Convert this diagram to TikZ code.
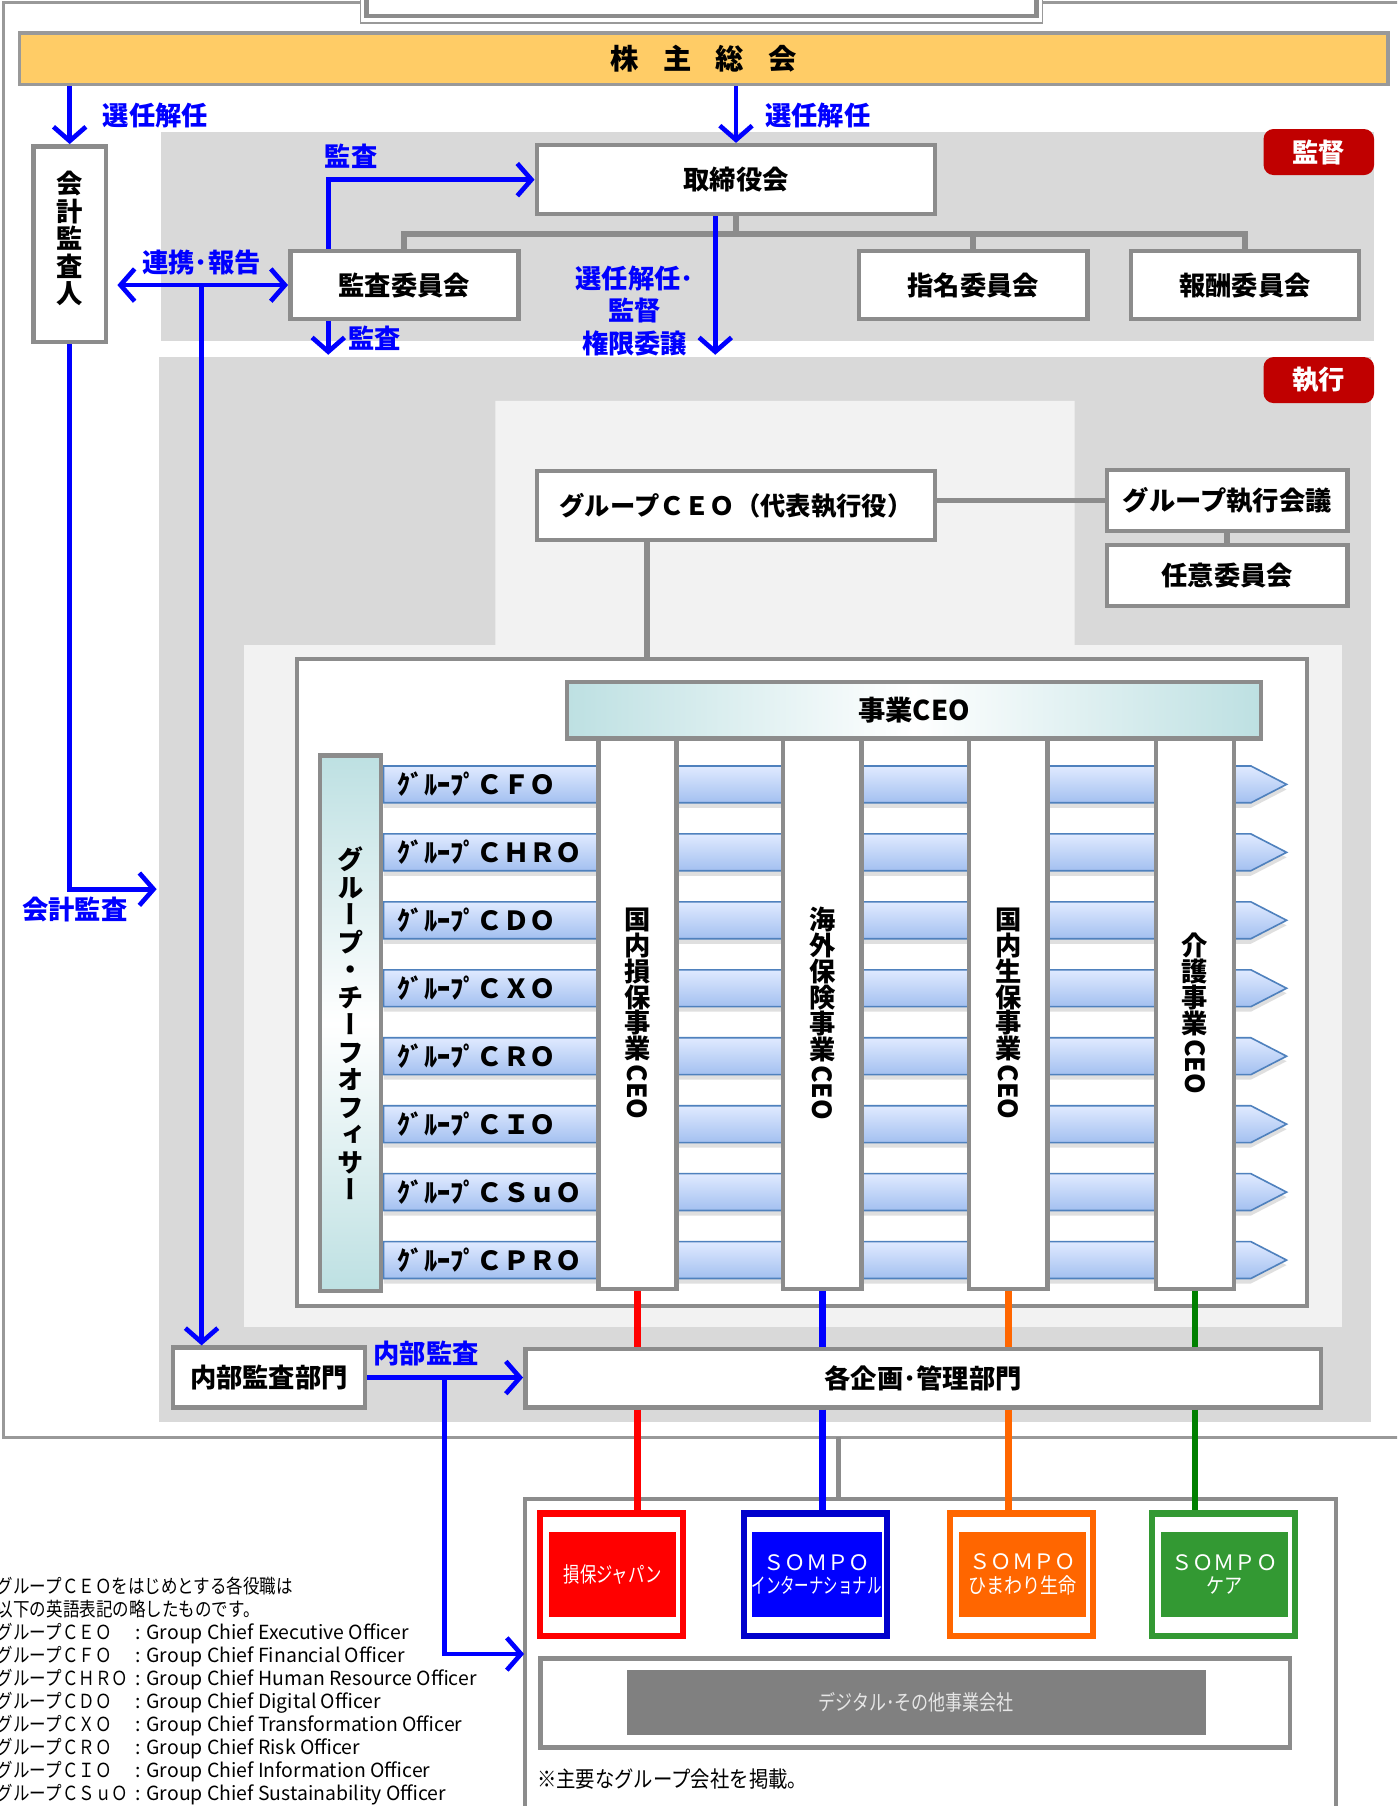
\documentclass[tikz,border=0pt]{standalone}
\usepackage{fontspec}
\usepackage{graphicx}
\setmainfont{Noto Sans CJK JP}
\newfontfamily\jpvert[RawFeature=+vert]{Noto Sans CJK JP}
\usetikzlibrary{arrows.meta,shadows}
\definecolor{framegray}{RGB}{153,153,153}
\definecolor{boxgray}{RGB}{140,140,140}
\definecolor{areagray}{RGB}{217,217,217}
\definecolor{lightarea}{RGB}{242,242,242}
\definecolor{gmyellow}{RGB}{255,204,102}
\definecolor{badgered}{RGB}{192,0,0}
\definecolor{abblue}{RGB}{0,0,255}
\definecolor{tealc}{RGB}{189,224,226}
\definecolor{bartop}{RGB}{224,234,255}
\definecolor{barbot}{RGB}{163,192,240}
\definecolor{baredge}{RGB}{79,129,189}
\definecolor{sjred}{RGB}{255,0,0}
\definecolor{siblue}{RGB}{0,0,255}
\definecolor{sidark}{RGB}{0,0,204}
\definecolor{shorange}{RGB}{255,102,0}
\definecolor{scgreen}{RGB}{51,153,51}
\definecolor{lngreen}{RGB}{0,128,0}
\definecolor{dggray}{RGB}{128,128,128}
\definecolor{dgtext}{RGB}{230,230,230}
\newcommand\jn[1]{\scalebox{0.85}[1]{#1}}
\newcommand\sepc{\hspace{3.5pt}:\hspace{3pt}}
\begin{document}
\begin{tikzpicture}[x=0.02cm,y=-0.02cm,
  orgbox/.style={draw=boxgray,line width=2.2pt,fill=white,inner sep=0pt,font=\bfseries\fontsize{13}{15}\selectfont},
  vbox/.style={orgbox,align=center,font=\jpvert\bfseries\fontsize{13}{13.6}\selectfont},
  badge/.style={fill=badgered,rounded corners=5pt,text=white,minimum width=1.92cm,minimum height=0.8cm,font=\bfseries\fontsize{13}{15}\selectfont},
  blab/.style={text=abblue,font=\bfseries\fontsize{13}{16}\selectfont,inner sep=0pt},
  barrow/.style={draw=abblue,line width=2.3pt,arrows={-Straight Barb[length=7pt,width=16pt]}},
  bdarrow/.style={draw=abblue,line width=2.3pt,arrows={Straight Barb[length=7pt,width=16pt]-Straight Barb[length=7pt,width=16pt]}},
  gline/.style={draw=boxgray,line width=2.8pt},
  rowbar/.style={draw=baredge,line width=0.8pt,top color=bartop,bottom color=barbot,drop shadow={shadow xshift=0pt,shadow yshift=-2.5pt,opacity=0.25}},
  rowlab/.style={font=\bfseries\fontsize{13}{15}\selectfont,inner sep=0pt,anchor=west},
  coout/.style={draw=#1,line width=3pt,fill=white,minimum width=2.48cm,minimum height=2.12cm},
  coin/.style={fill=#1,text=white,inner sep=0pt,minimum width=2.2cm,minimum height=1.46cm,align=center,font=\fontsize{10.5}{11.5}\selectfont},
  feed/.style={line width=3.2pt,draw=#1}]

\useasboundingbox (0,0) rectangle (1213,1568);
\fill[white] (0,0) rectangle (1213,1568);
\clip (0,0) rectangle (1213,1568);

\draw[framegray,line width=1.7pt] (3,2) rectangle (1240,1248);
\draw[framegray,line width=0.8pt,fill=white] (313,-30) rectangle (905,20);
\draw[boxgray,line width=2.3pt,fill=white] (318,-30) rectangle (900,14);

\fill[areagray] (140,115) rectangle (1193,296);
\fill[areagray] (138,310) rectangle (1190,1235);
\fill[lightarea] (430,348) -- (933,348) -- (933,560) -- (1165,560) -- (1165,1152) -- (212,1152) -- (212,560) -- (430,560) -- cycle;

\node[badge] (spv) at (1145,132) {監督};
\node[badge] (exe) at (1145,330) {執行};

\node[orgbox,draw=framegray,line width=1.7pt,fill=gmyellow,minimum width=23.76cm,minimum height=0.9cm,font=\bfseries\fontsize{14}{16}\selectfont] (gm) at (611,51) {株\hspace{12pt}主\hspace{12pt}総\hspace{12pt}会};

\node[vbox,minimum width=1.26cm,minimum height=3.4cm] (audp) at (60.5,212) {\\[-8pt]会\\計\\監\\査\\人};
\node[orgbox,minimum width=6.92cm,minimum height=1.2cm] (bd) at (639,156) {取締役会};
\node[orgbox,minimum width=3.96cm,minimum height=1.18cm] (aud) at (351,247.5) {監査委員会};
\node[orgbox,minimum width=3.96cm,minimum height=1.18cm] (nom) at (845,247.5) {指名委員会};
\node[orgbox,minimum width=3.96cm,minimum height=1.18cm] (rem) at (1081,247.5) {報酬委員会};
\coordinate (brace) at (638,203);
\draw[gline] (aud.north) |- (rem.north |- brace) -- (rem.north);
\draw[gline] (nom.north) -- (nom.north |- brace);
\draw[gline] (bd.south) -- (bd.south |- brace);

\node[orgbox,minimum width=6.92cm,minimum height=1.2cm,font=\bfseries\fontsize{12.5}{15}\selectfont] (ceo) at (639,439) {グループＣＥＯ（代表執行役）};
\node[orgbox,minimum width=4.18cm,minimum height=1.06cm] (gem) at (1065.5,434.5) {グループ執行会議};
\node[orgbox,minimum width=4.18cm,minimum height=1.06cm] (opt) at (1065.5,499.5) {任意委員会};
\draw[gline] (ceo.east |- gem.west) -- (gem.west);
\draw[gline] (gem.south) -- (opt.north);
\node[orgbox,minimum width=17.54cm,minimum height=11.24cm] (bf) at (696.5,853) {};
\draw[gline] ([xshift=-1.54cm]ceo.south) -- ([xshift=-1.54cm]ceo.south |- bf.north);

\foreach \lab [count=\i] in {ＣＦＯ,ＣＨＲＯ,ＣＤＯ,ＣＸＯ,ＣＲＯ,ＣＩＯ,ＣＳｕＯ,ＣＰＲＯ}{
  \pgfmathsetmacro\yy{622+59*\i}
  \draw[rowbar] (333,\yy-16) -- (1086,\yy-16) -- (1117,\yy) -- (1086,\yy+16) -- (333,\yy+16) -- cycle;
  \node[rowlab] (row\i) at (345,\yy) {ｸﾞﾙｰﾌﾟ\lab};
}

\node[vbox,minimum width=1.36cm,minimum height=9.56cm,font=\jpvert\bfseries\fontsize{13}{12.8}\selectfont] (c1) at (553.5,880) {国\\内\\損\\保\\事\\業\\[-10pt]\rotatebox{-90}{CEO}};
\node[vbox,minimum width=1.36cm,minimum height=9.56cm,font=\jpvert\bfseries\fontsize{13}{12.8}\selectfont] (c2) at (714,880) {海\\外\\保\\険\\事\\業\\[-10pt]\rotatebox{-90}{CEO}};
\node[vbox,minimum width=1.36cm,minimum height=9.56cm,font=\jpvert\bfseries\fontsize{13}{12.8}\selectfont] (c3) at (875.5,880) {国\\内\\生\\保\\事\\業\\[-10pt]\rotatebox{-90}{CEO}};
\node[vbox,minimum width=1.36cm,minimum height=9.56cm,font=\jpvert\bfseries\fontsize{13}{12.8}\selectfont] (c4) at (1037.5,880) {介\\護\\事\\業\\[-10pt]\rotatebox{-90}{CEO}};
\node[orgbox,left color=tealc,right color=tealc,middle color=white,minimum width=12.06cm,minimum height=0.98cm,font=\bfseries\fontsize{13.5}{15}\selectfont] (biz) at (793.5,616.5) {事業CEO};
\node[vbox,top color=tealc,bottom color=tealc,middle color=white,minimum width=1.06cm,minimum height=9.3cm,font=\jpvert\bfseries\fontsize{13}{13.6}\selectfont] (ofc) at (304.5,888.5) {グ\\ル\\ー\\プ\\・\\チ\\ー\\フ\\オ\\フ\\ィ\\サ\\ー};

\node[orgbox,minimum width=13.82cm,minimum height=1.02cm] (pd) at (801.5,1196.5) {各企画･管理部門};
\node[orgbox,minimum width=3.34cm,minimum height=1.04cm] (iad) at (233.5,1196) {内部監査部門};

\node[draw=boxgray,line width=2pt,minimum width=14.08cm,minimum height=6.36cm] (cf) at (808,1460) {};
\coordinate (stub) at (728,1248);
\draw[gline] (stub) -- (stub |- cf.north);

\node[coout=sjred] (sj) at (531,1367) {};
\node[coin=sjred] (sjt) at (532,1367) {\scalebox{0.77}[1]{損保ジャパン}};
\node[coout=sidark] (si) at (708,1367) {};
\node[coin=siblue] (sit) at (709,1367) {ＳＯＭＰＯ\\\scalebox{0.68}[1]{インターナショナル}};
\node[coout=shorange] (sh) at (887,1367) {};
\node[coin=shorange] (sht) at (888,1367) {ＳＯＭＰＯ\\\scalebox{0.85}[1]{ひまわり生命}};
\node[coout=scgreen] (sc) at (1062,1367) {};
\node[coin=scgreen] (sct) at (1063,1367) {ＳＯＭＰＯ\\\scalebox{0.85}[1]{ケア}};

\node[draw=boxgray,line width=2.3pt,fill=white,minimum width=13.02cm,minimum height=1.54cm] (dg) at (794.5,1478.5) {};
\node[fill=dggray,text=dgtext,minimum width=10.06cm,minimum height=1.12cm,font=\fontsize{10.5}{13}\selectfont] (dgt) at (795.5,1478) {\scalebox{0.8}[1]{デジタル･その他事業会社}};
\node[anchor=west,inner sep=0pt,font=\fontsize{11}{13}\selectfont] (note) at (466,1545) {\scalebox{0.87}[1]{※主要なグループ会社を掲載。}};

\draw[feed=sjred] (c1.south) -- (c1.south |- pd.north);
\draw[feed=sjred] (c1 |- pd.south) -- (c1 |- sj.north);
\draw[feed=siblue] (c2.south) -- (c2.south |- pd.north);
\draw[feed=siblue] (c2 |- pd.south) -- (c2 |- si.north);
\draw[feed=shorange] (c3.south) -- (c3.south |- pd.north);
\draw[feed=shorange] (c3 |- pd.south) -- (c3 |- sh.north);
\draw[feed=lngreen] (c4.south) -- (c4.south |- pd.north);
\draw[feed=lngreen] (c4 |- pd.south) -- (c4 |- sc.north);

\draw[barrow] (gm.south -| audp.north) -- (audp.north);
\node[blab] (l1) at (135,100) {選任解任};
\draw[barrow] (gm.south -| bd.north) -- (bd.north);
\node[blab] (l2) at (710,100) {選任解任};
\draw[barrow] ([xshift=-1.32cm]aud.north) |- (bd.west);
\node[blab] (l3) at (305,136) {監査};
\draw[bdarrow] ([xshift=0.16cm]audp.east |- aud.west) -- (aud.west);
\node[blab] (l4) at (175,228) {連携･報告};
\coordinate (link) at (175,248);
\draw[barrow] (link) -- (link |- iad.north);
\coordinate (deleg) at (621,308);
\draw[barrow] ([xshift=-1.32cm]aud.south) -- ([xshift=-1.32cm]aud.south |- deleg);
\node[blab] (l5) at (325,294) {監査};
\draw[barrow] (bd.south -| deleg) -- (deleg);
\node[blab,align=center,font=\bfseries\fontsize{13}{15.9}\selectfont] (l6) at (551,270) {選任解任･\\監督\\権限委譲};
\coordinate (acct) at (136,772);
\draw[barrow] (audp.south) |- (acct);
\node[blab] (l7) at (65,790) {会計監査};
\draw[barrow] (iad.east) -- (iad.east -| pd.west);
\node[blab] (l8) at (370,1175) {内部監査};
\coordinate (iatap) at (386,1196);
\coordinate (grp) at (455,1436);
\draw[barrow] (iatap) |- (grp);

\node[anchor=north west,inner sep=0pt,font=\fontsize{9.6}{11}\selectfont] (legend) at (-3,1369) {%
\begin{tabular}{@{}l@{}l@{}}
\multicolumn{2}{@{}l@{}}{\jn{グループＣＥＯをはじめとする各役職は}}\\
\multicolumn{2}{@{}l@{}}{\jn{以下の英語表記の略したものです。}}\\
\jn{グループＣＥＯ} & \sepc Group Chief Executive Officer\\
\jn{グループＣＦＯ} & \sepc Group Chief Financial Officer\\
\jn{グループＣＨＲＯ} & \sepc Group Chief Human Resource Officer\\
\jn{グループＣＤＯ} & \sepc Group Chief Digital Officer\\
\jn{グループＣＸＯ} & \sepc Group Chief Transformation Officer\\
\jn{グループＣＲＯ} & \sepc Group Chief Risk Officer\\
\jn{グループＣＩＯ} & \sepc Group Chief Information Officer\\
\jn{グループＣＳｕＯ} & \sepc Group Chief Sustainability Officer\\
\jn{グループＣＰＲＯ} & \sepc Group Chief Public Relations Officer
\end{tabular}};
\end{tikzpicture}
\end{document}
